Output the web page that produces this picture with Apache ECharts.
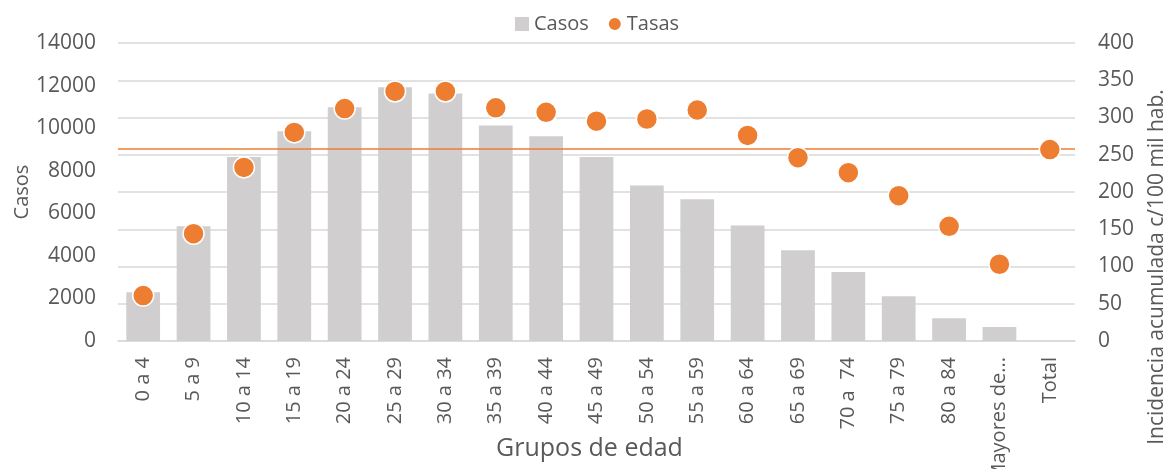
<!DOCTYPE html>
<html>
<head>
<meta charset="utf-8">
<script src="https://cdn.jsdelivr.net/npm/echarts@6/dist/echarts.min.js"></script>
<style>
html,body{margin:0;padding:0;background:#fff;}
#chart{width:1166px;height:469px;}
</style>
</head>
<body>
<div id="chart"></div>
<script>
const categories = ["0 a 4","5 a 9","10 a 14","15 a 19","20 a 24","25 a 29","30 a 34","35 a 39","40 a 44","45 a 49","50 a 54","55 a 59","60 a 64","65 a 69","70 a  74","75 a 79","80 a 84","Mayores de...","Total"];
const casos = [2290, 5390, 8640, 9850, 10980, 11920, 11630, 10130, 9620, 8640, 7310, 6660, 5430, 4260, 3240, 2100, 1070, 660, null];
const tasas = [61, 144, 233, 280, 312, 335, 335, 313, 307, 295, 298, 310, 276, 246, 226, 195, 154, 103, 257];
const totalRate = 258;
const leftTicks = {min: 0, max: 14000, interval: 2000};
const rightTicks = {min: 0, max: 400, interval: 50};

const txt = '#595959';
const font = 'Open Sans';
const chart = echarts.init(document.getElementById('chart'));
chart.setOption({
  animation: false,
  textStyle: {fontFamily: font},
  legend: {
    top: 9, left: 510,
    itemWidth: 14, itemHeight: 14, itemGap: 18,
    textStyle: {color: txt, fontSize: 20, fontFamily: font},
    data: [{name: 'Casos', icon: 'rect'}, {name: 'Tasas', icon: 'circle'}]
  },
  grid: {left: 118, right: 91, top: 43, bottom: 128, containLabel: false, outerBoundsMode: 'none'},
  xAxis: {
    type: 'category', data: categories,
    axisLine: {lineStyle: {color: '#D9D9D9', width: 1.5}},
    axisTick: {show: false},
    axisLabel: {rotate: 90, color: txt, fontSize: 20, fontFamily: font, margin: 16, interval: 0},
    name: 'Grupos de edad', nameLocation: 'middle', nameGap: 95, nameMoveOverlap: false,
    nameTextStyle: {color: txt, fontSize: 25, fontFamily: font, padding: [0, 14, 0, 0]}
  },
  yAxis: [
    {
      type: 'value', min: leftTicks.min, max: leftTicks.max, interval: leftTicks.interval,
      axisLine: {show: false}, axisTick: {show: false},
      splitLine: {show: false},
      axisLabel: {color: txt, fontSize: 21, fontFamily: font, margin: 22, formatter: v => String(v)},
      name: 'Casos', nameLocation: 'middle', nameGap: 86, nameMoveOverlap: false,
      nameTextStyle: {color: txt, fontSize: 20, fontFamily: font}
    },
    {
      type: 'value', min: rightTicks.min, max: rightTicks.max, interval: rightTicks.interval,
      axisLine: {show: false}, axisTick: {show: false},
      splitLine: {lineStyle: {color: '#D9D9D9', width: 1.5}},
      axisLabel: {color: txt, fontSize: 21, fontFamily: font, margin: 23, formatter: v => String(v)},
      name: 'Incidencia acumulada c/100 mil hab.', nameLocation: 'middle', nameGap: 72, nameMoveOverlap: false,
      nameTextStyle: {color: txt, fontSize: 21, fontFamily: font, padding: [0, 150, 0, 0]}
    }
  ],
  series: [
    {
      name: 'Casos', type: 'bar', data: casos, yAxisIndex: 0,
      barWidth: '67%',
      itemStyle: {color: '#D0CECE'}
    },
    {
      name: 'Tasas', type: 'scatter', data: tasas, yAxisIndex: 1,
      symbolSize: 21,
      itemStyle: {color: '#ED7D31', borderColor: '#fff', borderWidth: 1.5, opacity: 1},
      z: 5,
      markLine: {
        silent: true, symbol: 'none', label: {show: false},
        lineStyle: {color: '#ED7D31', width: 1.5, type: 'solid'},
        data: [{yAxis: totalRate}]
      }
    }
  ]
});
</script>
</body>
</html>
